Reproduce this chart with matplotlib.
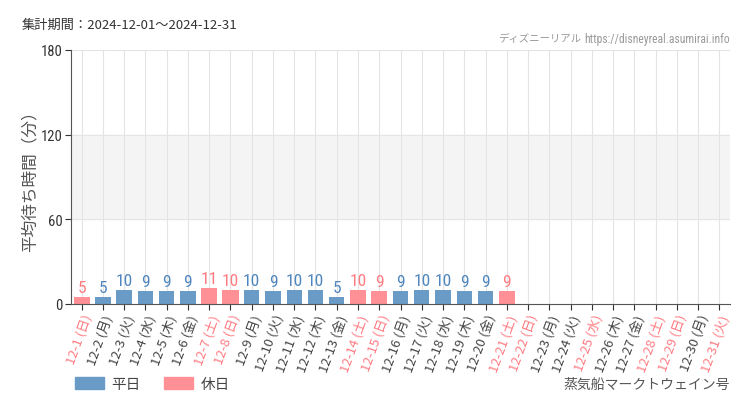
import matplotlib.pyplot as plt
from matplotlib.patches import Patch
from matplotlib import font_manager

plt.rcParams['font.family'] = ['Noto Sans CJK JP', 'DejaVu Sans']

names = {f.name for f in font_manager.fontManager.ttflist}
NARROW = "Roboto Condensed" if "Roboto Condensed" in names else "DejaVu Sans"

# === Data ===
days = list(range(1, 32))
weekdays = ["日", "月", "火", "水", "木", "金", "土"]
day_names = [weekdays[(d - 1) % 7] for d in days]
holidays = [1, 7, 8, 14, 15, 21, 22, 25, 28, 29, 31]
wait_times = [5, 5, 10, 9, 9, 9, 11, 10, 10, 9, 10, 10, 5, 10, 9, 9, 10, 10, 9, 9, 9,
              None, None, None, None, None, None, None, None, None, None]
tick_labels = [f"12-{d} ({n})" for d, n in zip(days, day_names)]

BLUE = "#6a9ac6"
PINK = "#ff9096"
BLUE_TXT = "#4f86bf"
PINK_TXT = "#ff7b82"
GRAY_TXT = "#444444"

fig = plt.figure(figsize=(7.5, 4.1), dpi=100)
ax = fig.add_axes([71 / 750, 1 - 305 / 410, 659 / 750, 254 / 410])

ax.axhspan(60, 120, color="#f4f4f4", zorder=0)
for i in range(len(days)):
    ax.axvline(i, color="#e4e4e4", lw=0.8, zorder=0.5)
for y in (60, 120, 180):
    ax.axhline(y, color="#e4e4e4", lw=0.8, zorder=0.5)

for i, (d, v) in enumerate(zip(days, wait_times)):
    if v is None:
        continue
    hol = d in holidays
    ax.bar(i, v, width=0.76 if hol else 0.72, color=PINK if hol else BLUE, zorder=2)
    ax.text(i, v + 1.5, str(v), ha="center", va="bottom", fontsize=12.5,
            color=PINK_TXT if hol else BLUE_TXT, family=[NARROW, "DejaVu Sans"],
            zorder=3)

ax.set_xlim(-0.5, len(days) - 0.5)
ax.set_ylim(0, 180)
ax.set_yticks([0, 60, 120, 180])
ax.tick_params(axis="y", labelsize=10.5, colors="#333333", length=4, pad=2)
ax.tick_params(axis="x", length=4, color="#333333", pad=2)
ax.set_xticks(range(len(days)))
ax.set_xticklabels(tick_labels, rotation=70, ha="right", rotation_mode="anchor", fontsize=9.5)
for lbl, d in zip(ax.get_xticklabels(), days):
    lbl.set_color(PINK_TXT if d in holidays else GRAY_TXT)
for lbl in ax.get_yticklabels():
    lbl.set_family([NARROW, "DejaVu Sans"])

for s in ("top", "right"):
    ax.spines[s].set_visible(False)
ax.spines["left"].set_color("#555555")
ax.spines["bottom"].set_color("#555555")

fig.text(30 / 750, 1 - 177 / 410, "平均待ち時間（分）", fontsize=12, color="#555555",
         rotation=90, ha="center", va="center")

fig.text(22 / 750, 1 - 25 / 410, "集計期間：2024-12-01～2024-12-31", fontsize=9.5,
         color="#333333", va="center")
fig.text(730 / 750, 1 - 39 / 410, "https://disneyreal.asumirai.info", fontsize=8.4,
         color="#999999", va="center", ha="right", family=[NARROW, "DejaVu Sans"])
fig.text(581 / 750, 1 - 39 / 410, "ディズニーリアル", fontsize=7.5,
         color="#999999", va="center", ha="right")
fig.text(730 / 750, 1 - 385 / 410, "蒸気船マークトウェイン号", fontsize=10,
         color="#555555", va="center", ha="right")

handles = [Patch(color=BLUE, label="平日"), Patch(color=PINK, label="休日")]
fig.legend(handles=handles, loc="center left", bbox_to_anchor=(62 / 750, 1 - 385 / 410),
           ncol=2, frameon=False, fontsize=10.5, handlelength=2.0, handleheight=0.9,
           columnspacing=1.6, handletextpad=0.5, labelcolor="#444444")

fig.savefig("out.png", dpi=100)
